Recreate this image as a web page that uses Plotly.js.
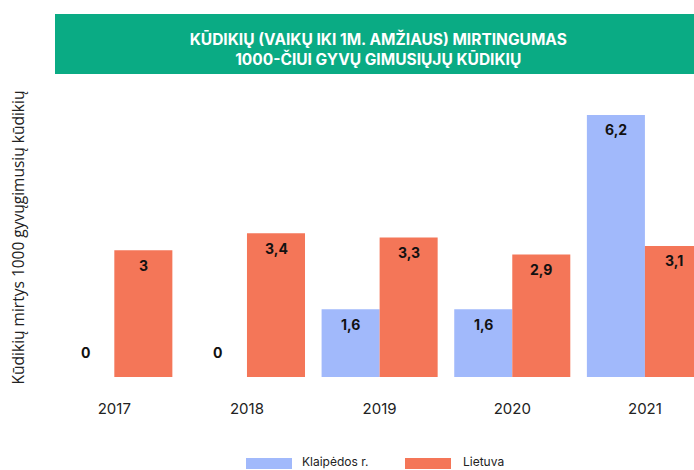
<!DOCTYPE html>
<html><head><meta charset="utf-8">
<script src="https://cdn.plot.ly/plotly-3.0.1.min.js"></script>
<style>html,body{margin:0;padding:0;overflow:hidden;background:#fff}</style>
</head><body><div id="chart" style="width:694px;height:470px"></div>
<script>
const years = ['2017','2018','2019','2020','2021'];
const klaipedos = [0, 0, 1.6, 1.6, 6.2];
const lietuva = [3, 3.4, 3.3, 2.9, 3.1];
const seriesNames = ['Klaipėdos r.', 'Lietuva'];
const colors = ['#A1B9FB', '#F47658'];

const fmt = v => String(v).replace('.', ',');
const traces = [klaipedos, lietuva].map((vals, k) => ({
  type: 'bar', x: years, y: vals, name: seriesNames[k],
  marker: {color: colors[k]}, showlegend: false
}));

const annotations = [];
[klaipedos, lietuva].forEach((vals, k) => {
  vals.forEach((v, i) => {
    annotations.push({
      x: i + (k === 0 ? -0.22 : 0.22), y: v, xref: 'x', yref: 'y',
      text: '<b>' + fmt(v) + '</b>', showarrow: false,
      yshift: v === 0 ? 25 : -15,
      font: {family: 'Inter, sans-serif', size: 14, color: '#111'}
    });
  });
});
// legend (custom wide swatches)
const legendPos = [[246, 292, 300], [405, 451, 461]];
const shapes = [{
  type: 'rect', xref: 'paper', yref: 'paper',
  x0: (55 - 48) / 646, x1: 1.02, y0: (377 - 74) / 279, y1: (377 - 14) / 279,
  fillcolor: '#0AAB84', line: {width: 0}, layer: 'below'
}];
seriesNames.forEach((n, k) => {
  const [a, b, t] = legendPos[k];
  shapes.push({type: 'rect', xref: 'paper', yref: 'paper',
    x0: (a - 48) / 646, x1: (b - 48) / 646,
    y0: (377 - 469) / 279, y1: (377 - 458) / 279,
    fillcolor: colors[k], line: {width: 0}});
  annotations.push({xref: 'paper', yref: 'paper', x: (t - 48) / 646, y: (377 - 461) / 279,
    xanchor: 'left', yanchor: 'middle', showarrow: false, text: n,
    font: {family: 'Inter, sans-serif', size: 12, color: '#222'}});
});

const layout = {
  width: 694, height: 470,
  margin: {l: 48, r: 0, t: 98, b: 93},
  paper_bgcolor: '#fff', plot_bgcolor: '#fff',
  barmode: 'group', bargap: 0.125, bargroupgap: 0,
  title: {text: '<b>KŪDIKIŲ (VAIKŲ IKI 1M. AMŽIAUS) MIRTINGUMAS<br>1000-ČIUI GYVŲ GIMUSIŲJŲ KŪDIKIŲ</b>',
    x: 0.545, xanchor: 'center', y: 1 - 45 / 470, yanchor: 'middle',
    font: {family: 'Inter, sans-serif', size: 15.5, color: '#fff'}},
  xaxis: {type: 'category', range: [-0.5, 4.37], showgrid: false, zeroline: false, showline: false,
    ticks: 'outside', ticklen: 18, tickcolor: 'rgba(0,0,0,0)',
    tickfont: {family: 'Inter, sans-serif', size: 15, color: '#222'}},
  yaxis: {range: [0, 6.6], showgrid: false, zeroline: false, showticklabels: false, ticks: '',
    title: {text: 'Kūdikių mirtys 1000 gyvųgimusių kūdikių', standoff: 18,
      font: {family: 'Open Sans, sans-serif', size: 15.5, color: '#222'}}},
  shapes: shapes, annotations: annotations, hovermode: false
};
Plotly.newPlot('chart', traces, layout, {displayModeBar: false, staticPlot: true});
</script></body></html>
